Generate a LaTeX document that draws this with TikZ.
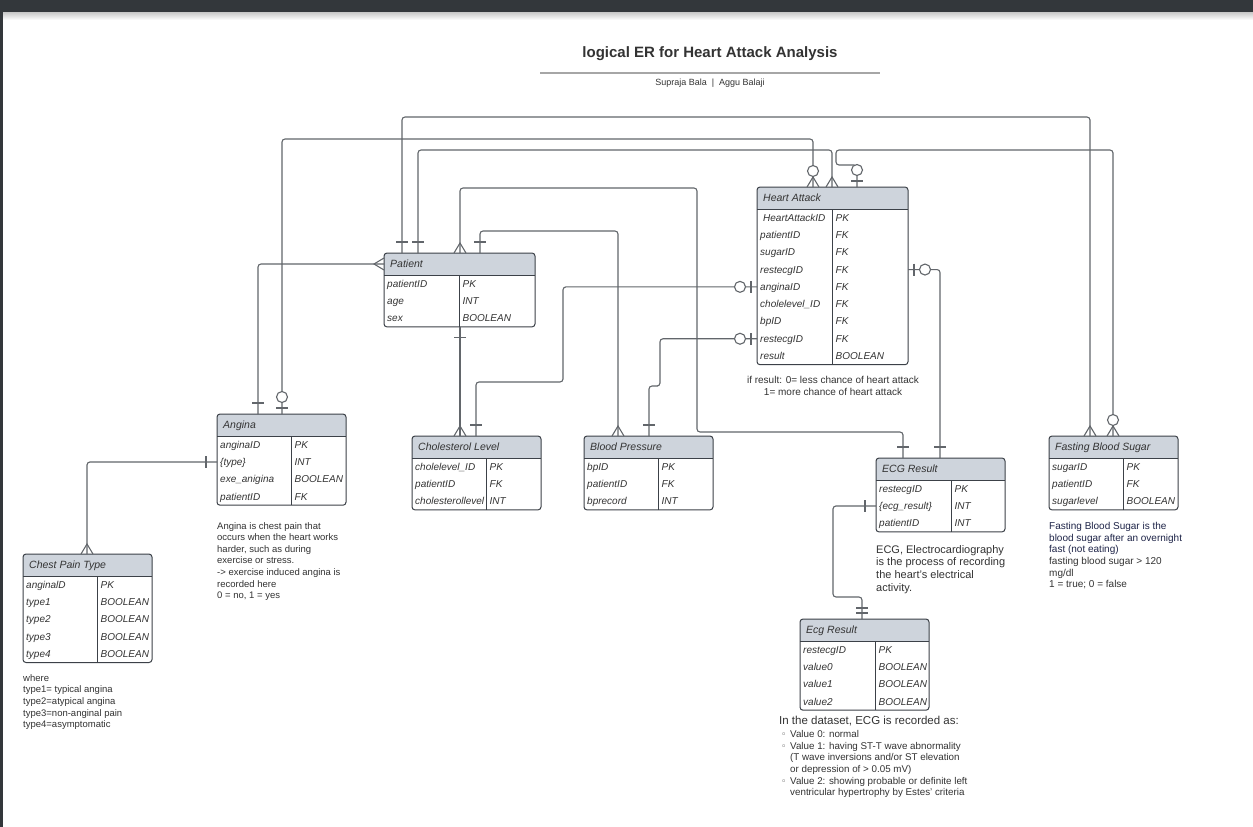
\documentclass[tikz,border=0pt]{standalone}
\usepackage{fontspec}
\setmainfont{Liberation Sans}
\newfontfamily\symfont{DejaVu Sans}
\usepackage{tikz}

\definecolor{linecol}{HTML}{62666B}
\definecolor{boxcol}{HTML}{3C4148}
\definecolor{headcol}{HTML}{CED4DC}
\definecolor{txtcol}{HTML}{333333}
\definecolor{navy}{HTML}{1E2448}
\definecolor{barcol}{HTML}{33373B}

% table: name, x, y, width, divider, title, rows, row list
\newcommand{\ertable}[8]{%
  \pgfmathsetmacro{\tabh}{22+#7*17.3}
  \fill[headcol, rounded corners=3pt] (#2,#3) rectangle ++(#4,22);
  \fill[headcol] (#2,#3+11) rectangle ++(#4,11);
  \node[tbl, minimum width=#4pt, minimum height=\tabh pt] (#1) at (#2,#3) {};
  \draw[boxcol, line width=1pt] (#2,#3+22) -- ++(#4,0);
  \draw[boxcol, line width=1pt] (#2+#5,#3+22) -- (#2+#5,#3+\tabh);
  \node[tbltitle] at (#2+6,#3+11) {#6};
  \foreach \fa/\fb [count=\i] in {#8} {
    \node[tbltext] at (#2+3,#3+22+\i*17.3-8.65) {\fa};
    \node[tbltext] at (#2+#5+3.5,#3+22+\i*17.3-8.65) {\fb};
  }
}
\newcommand{\bul}{\makebox[9pt][l]{\symfont\fontsize{9}{9}\selectfont ◦}}
\newcommand{\nobul}{\hspace*{9pt}}

\begin{document}
\begin{tikzpicture}[x=1pt, y=-1pt,
  tbl/.style={draw=boxcol, line width=1pt, rounded corners=3pt, inner sep=0, outer sep=0, anchor=north west},
  tbltitle/.style={anchor=west, inner sep=0, text=txtcol, font=\fontsize{10.5}{12}\selectfont\itshape, text height=8pt, text depth=1pt},
  tbltext/.style={anchor=west, inner sep=0, text=txtcol, font=\fontsize{10}{12}\selectfont\itshape, text height=8pt, text depth=1pt},
  note/.style={anchor=north west, inner sep=0, align=left, text=txtcol},
  conn/.style={draw=linecol, line width=1.1pt, rounded corners=3pt},
  ermark/.style={draw=linecol, line width=1.1pt},
  erone/.pic={\draw[ermark] (-6pt,11pt) -- (6pt,11pt);},
  eronlyone/.pic={\draw[ermark] (-6pt,6pt) -- (6pt,6pt) (-6pt,11pt) -- (6pt,11pt);},
  erzeroone/.pic={\draw[ermark] (-6pt,6pt) -- (6pt,6pt); \draw[ermark, fill=white] (0,17pt) circle (5.5pt);},
  ermany/.pic={\draw[ermark] (-6pt,0) -- (0,10pt) -- (6pt,0);},
  erzeromany/.pic={\draw[ermark] (-6pt,0) -- (0,10pt) -- (6pt,0); \draw[ermark, fill=white] (0,16pt) circle (5.5pt);}]

\useasboundingbox (0,0) rectangle (1253,827);
\fill[white] (0,0) rectangle (1253,827);
\shade[top color=black!22, bottom color=white] (3,12) rectangle (1253,20);
\fill[barcol] (0,0) rectangle (1253,12);
\fill[barcol] (0,0) rectangle (3,827);

% title
\node[text=txtcol, font=\fontsize{15}{18}\selectfont\bfseries] (title) at (710,54) {logical ER for Heart Attack Analysis};
\draw[black!35, line width=1.2pt] (540,73) -- (880,73);
\node[text=txtcol, font=\fontsize{9}{10}\selectfont] (authors) at (710,83.5) {Supraja Bala\ \ |\ \ Aggu Balaji};

% tables
\ertable{ha}{757}{187}{151}{75}{Heart Attack}{9}{{\hspace{3pt}HeartAttackID}/PK, patientID/FK, sugarID/FK, restecgID/FK, anginaID/FK, cholelevel\_ID/FK, bpID/FK, restecgID/FK, result/BOOLEAN}
\ertable{pat}{384}{253}{151}{75}{Patient}{3}{patientID/PK, age/INT, sex/BOOLEAN}
\ertable{ang}{217}{414}{129}{74}{Angina}{4}{anginaID/PK, \{type\}/INT, exe\_anigina/BOOLEAN, patientID/FK}
\ertable{cpt}{23}{554}{129}{74}{Chest Pain Type}{5}{anginalD/PK, type1/BOOLEAN, type2/BOOLEAN, type3/BOOLEAN, type4/BOOLEAN}
\ertable{chol}{412}{436}{129}{74}{Cholesterol Level}{3}{cholelevel\_ID/PK, patientID/FK, cholesterollevel/INT}
\ertable{bp}{584}{436}{129}{74}{Blood Pressure}{3}{bpID/PK, patientID/FK, bprecord/INT}
\ertable{ecg}{876}{458}{129}{75}{ECG Result}{3}{restecgID/PK, \{ecg\_result\}/INT, patientID/INT}
\ertable{fbs}{1049}{436}{129}{74}{Fasting Blood Sugar}{3}{sugarID/PK, patientID/FK, sugarlevel/BOOLEAN}
\ertable{ecgr}{800}{619}{129}{75}{Ecg Result}{4}{restecgID/PK, value0/BOOLEAN, value1/BOOLEAN, value2/BOOLEAN}

% connectors
\draw[conn] ([xshift=18pt]pat.north west) |- (700,117) -| ([xshift=41pt]fbs.north west);
\draw[conn] ([xshift=65pt]ang.north west) |- (500,139) -| ([xshift=56pt]ha.north west);
\draw[conn] ([xshift=34pt]pat.north west) |- (600,150) -| ([xshift=75pt]ha.north west);
\draw[conn] ([xshift=100pt]ha.north west) |- (846,165) -| (836,150) -| ([xshift=64pt]fbs.north west);
\draw[conn] ([xshift=76pt]pat.north west) |- (600,188) -| (697,300) |- (800,432) -| ([xshift=27pt]ecg.north west);
\draw[conn] ([xshift=96pt]pat.north west) |- (550,231) -| ([xshift=34pt]bp.north west);
\draw[conn] ([yshift=-11pt]pat.north west) -| ([xshift=41pt]ang.north west);
\draw[conn] ([xshift=76pt]pat.south west) -- ([xshift=48pt]chol.north west);
\draw[conn] ([yshift=-99.85pt]ha.north west) -| (563,330) |- (520,382) -| ([xshift=64pt]chol.north west);
\draw[conn] ([yshift=-151.75pt]ha.north west) -| (660,370) |- (655,386) -| ([xshift=65pt]bp.north west);
\draw[conn] ([yshift=-82.55pt]ha.north east) -| ([xshift=64pt]ecg.north west);
\draw[conn] ([yshift=-47.95pt]ang.north west) -| ([xshift=64pt]cpt.north west);
\draw[conn] ([yshift=-47.95pt]ecg.north west) -| (833,560) |- (850,597) -| ([xshift=62pt]ecgr.north west);

% end marks
\pic at ([xshift=18pt]pat.north west) {erone};
\pic at ([xshift=41pt]fbs.north west) {ermany};
\pic at ([xshift=65pt]ang.north west) {erzeroone};
\pic at ([xshift=56pt]ha.north west) {erzeromany};
\pic at ([xshift=34pt]pat.north west) {erone};
\pic at ([xshift=75pt]ha.north west) {ermany};
\pic at ([xshift=100pt]ha.north west) {erzeroone};
\pic at ([xshift=64pt]fbs.north west) {erzeromany};
\pic at ([xshift=76pt]pat.north west) {ermany};
\pic at ([xshift=27pt]ecg.north west) {erone};
\pic at ([xshift=96pt]pat.north west) {erone};
\pic at ([xshift=34pt]bp.north west) {ermany};
\pic[rotate=90] at ([yshift=-11pt]pat.north west) {ermany};
\pic at ([xshift=41pt]ang.north west) {erone};
\pic[rotate=180] at ([xshift=76pt]pat.south west) {erone};
\pic at ([xshift=48pt]chol.north west) {ermany};
\pic[rotate=90] at ([yshift=-99.85pt]ha.north west) {erzeroone};
\pic at ([xshift=64pt]chol.north west) {erone};
\pic[rotate=90] at ([yshift=-151.75pt]ha.north west) {erzeroone};
\pic at ([xshift=65pt]bp.north west) {erone};
\pic[rotate=-90] at ([yshift=-82.55pt]ha.north east) {erzeroone};
\pic at ([xshift=64pt]ecg.north west) {erone};
\pic[rotate=90] at ([yshift=-47.95pt]ang.north west) {erone};
\pic at ([xshift=64pt]cpt.north west) {ermany};
\pic[rotate=90] at ([yshift=-47.95pt]ecg.north west) {erone};
\pic at ([xshift=62pt]ecgr.north west) {eronlyone};

% notes
\node[note, align=center, anchor=center, font=\fontsize{10}{12}\selectfont] (hanote) at (833,386) {if result: 0= less chance of heart attack\\1= more chance of heart attack};
\node[note, font=\fontsize{9.5}{11.6}\selectfont] (angnote) at (217,522) {Angina is chest pain that\\occurs when the heart works\\harder, such as during\\exercise or stress.\\-> exercise induced angina is\\recorded here\\0 = no, 1 = yes};
\node[note, font=\fontsize{9.5}{11.7}\selectfont] (cptnote) at (23,674) {where\\type1= typical angina\\type2=atypical angina\\type3=non-anginal pain\\type4=asymptomatic};
\node[note, font=\fontsize{11}{12.8}\selectfont] (ecgnote) at (876,545) {ECG, Electrocardiography\\is the process of recording\\the heart's electrical\\activity.};
\node[note, font=\fontsize{10}{11.7}\selectfont] (fbsnote) at (1049,522) {\textcolor{navy}{Fasting Blood Sugar is the}\\\textcolor{navy}{blood sugar after an overnight}\\\textcolor{navy}{fast (not eating)}\\fasting blood sugar > 120\\mg/dl\\1 = true; 0 = false};
\node[note, font=\fontsize{11.5}{13}\selectfont] (ecgrnote) at (779,716) {In the dataset, ECG is recorded as:};
\node[note, font=\fontsize{9.8}{11.7}\selectfont] (ecgrlist) at (781,730) {\bul Value 0: normal\\\bul Value 1: having ST-T wave abnormality\\\nobul(T wave inversions and/or ST elevation\\\nobul or depression of > 0.05 mV)\\\bul Value 2: showing probable or definite left\\\nobul ventricular hypertrophy by Estes' criteria};
\end{tikzpicture}
\end{document}
